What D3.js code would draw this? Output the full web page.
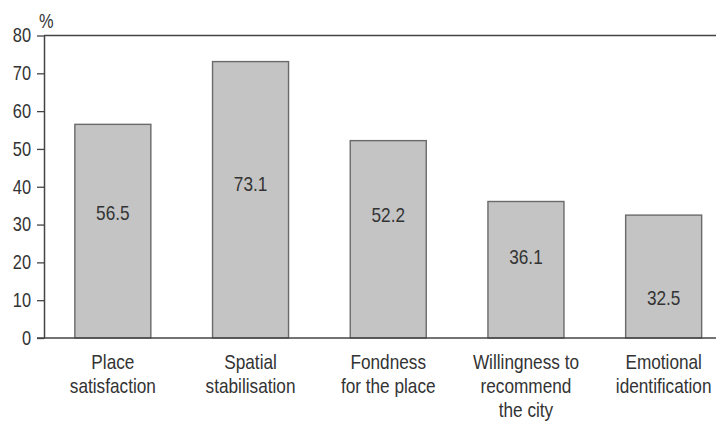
<!DOCTYPE html>
<html>
<head>
<meta charset="utf-8">
<script src="https://cdn.jsdelivr.net/npm/d3@7"></script>
<style>
  html, body { margin: 0; padding: 0; background: #fff; }
  svg { display: block; }
  text { font-family: "Liberation Sans", Arial, sans-serif; fill: #333; }
</style>
</head>
<body>
<svg id="chart" width="716" height="421"></svg>
<script>
// Share of respondents (%) for each dimension of place attachment
const categories = [
  ["Place", "satisfaction"],
  ["Spatial", "stabilisation"],
  ["Fondness", "for the place"],
  ["Willingness to", "recommend", "the city"],
  ["Emotional", "identification"]
];
const values = [56.5, 73.1, 52.2, 36.1, 32.5];
// height (in % units) at which each value label sits inside its bar
const labelLevels = [33.1, 41.0, 32.8, 21.7, 10.8];
const yTicks = [0, 10, 20, 30, 40, 50, 60, 70, 80];

const W = 716, H = 421;
const plotLeft = 44, plotTop = 35.5, plotBottom = 338;
const axisColor = "#444";
const narrow = 0.82; // horizontal squeeze giving a condensed sans face

const svg = d3.select("#chart");

const x = d3.scaleBand()
  .domain(d3.range(values.length))
  .range([plotLeft, 732.5])
  .paddingInner(0.448)
  .paddingOuter(0.224);

const y = d3.scaleLinear().domain([0, 80]).range([plotBottom, plotTop]);

// bars
svg.append("g").selectAll("rect")
  .data(values)
  .join("rect")
  .attr("x", (d, i) => x(i))
  .attr("y", d => y(d))
  .attr("width", x.bandwidth())
  .attr("height", d => y(0) - y(d))
  .attr("fill", "#c4c4c4")
  .attr("stroke", "#6a6a6a")
  .attr("stroke-width", 1.4);

// value labels
svg.append("g").selectAll("text")
  .data(values)
  .join("text")
  .attr("transform", (d, i) =>
    `translate(${x(i) + x.bandwidth() / 2},${y(labelLevels[i])}) scale(${narrow},1)`)
  .attr("dy", "0.36em")
  .attr("text-anchor", "middle")
  .attr("font-size", 21)
  .text(d => d.toFixed(1));

// y axis
const yAxis = svg.append("g")
  .attr("transform", `translate(${plotLeft},0)`)
  .call(d3.axisLeft(y).tickValues(yTicks).tickSize(7).tickPadding(6).tickSizeOuter(0));
yAxis.attr("font-family", null).attr("font-size", null);
yAxis.select(".domain").attr("stroke", axisColor).attr("stroke-width", 1.5);
yAxis.selectAll(".tick line").attr("stroke", axisColor).attr("stroke-width", 1.3);
yAxis.selectAll(".tick text")
  .attr("font-size", 20)
  .attr("fill", "#333")
  .attr("x", -13 / narrow)
  .attr("transform", `scale(${narrow},1)`);

// top frame line and baseline
svg.append("line")
  .attr("x1", plotLeft).attr("x2", W)
  .attr("y1", y(80)).attr("y2", y(80))
  .attr("stroke", axisColor).attr("stroke-width", 1.5);
svg.append("line")
  .attr("x1", plotLeft - 7).attr("x2", W)
  .attr("y1", y(0)).attr("y2", y(0))
  .attr("stroke", axisColor).attr("stroke-width", 1.5);

// unit label
svg.append("text")
  .attr("transform", `translate(39,28) scale(${narrow},1)`)
  .attr("font-size", 20)
  .text("%");

// category labels
const cat = svg.append("g").selectAll("text")
  .data(categories)
  .join("text")
  .attr("transform", (d, i) => `translate(${x(i) + x.bandwidth() / 2},0) scale(${narrow},1)`)
  .attr("text-anchor", "middle")
  .attr("font-size", 21);
cat.selectAll("tspan")
  .data(d => d)
  .join("tspan")
  .attr("x", 0)
  .attr("y", (d, j) => 369 + j * 24)
  .text(d => d);
</script>
</body>
</html>
